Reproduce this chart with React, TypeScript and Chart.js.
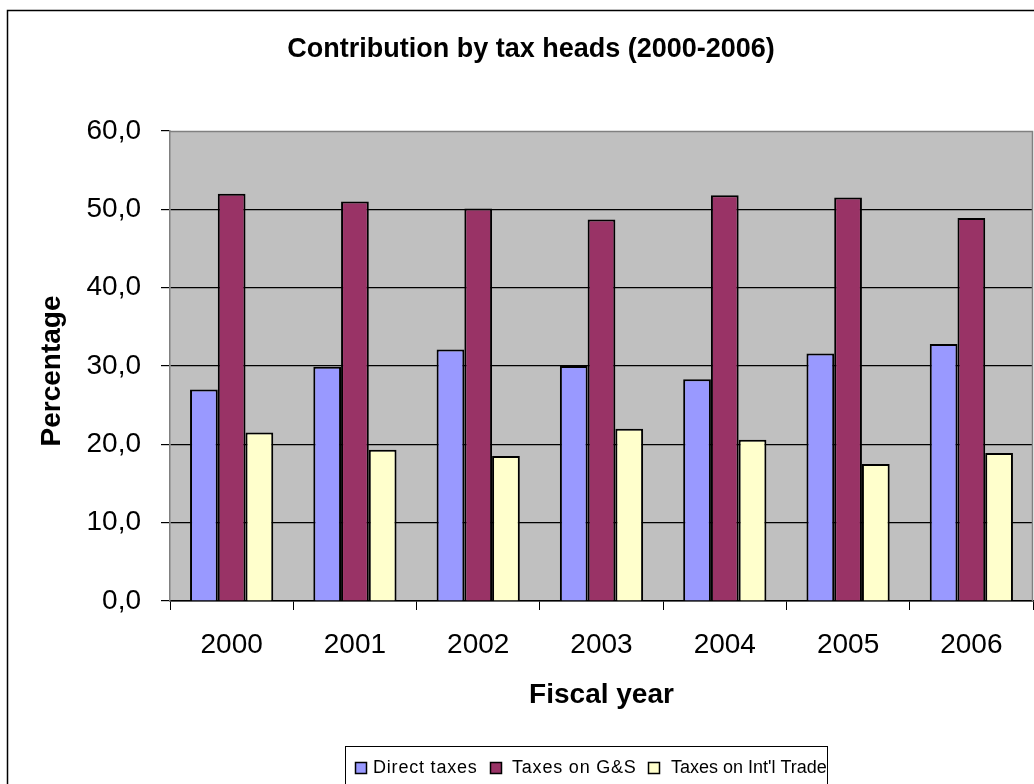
import React, { useEffect, useRef } from "react";
import { Chart, registerables } from "chart.js";

Chart.register(...registerables);

const years = ["2000", "2001", "2002", "2003", "2004", "2005", "2006"];
const directTaxes = [27.0, 29.9, 32.1, 30.0, 28.3, 31.6, 32.8];
const taxesGS = [52.0, 51.0, 50.1, 48.7, 51.8, 51.5, 48.9];
const taxesTrade = [21.5, 19.3, 18.5, 22.0, 20.6, 17.5, 18.9];
const seriesNames = ["Direct taxes", "Taxes on G&S", "Taxes on Int'l Trade"];
const seriesColors = ["#9999FF", "#993366", "#FFFFCC"];
const yTicks = [0, 10, 20, 30, 40, 50, 60];
const chartTitle = "Contribution by tax heads (2000-2006)";
const xTitle = "Fiscal year";
const yTitle = "Percentage";

const FONT = '"Liberation Sans", Arial, Helvetica, sans-serif';

const decor = {
  id: "decor",
  beforeDraw(chart: any) {
    const { ctx, chartArea: a } = chart;
    ctx.save();
    ctx.fillStyle = "#ffffff";
    ctx.fillRect(0, 0, chart.width, chart.height);
    ctx.strokeStyle = "#000000";
    ctx.lineWidth = 1.5;
    ctx.strokeRect(7.5, 10.5, 1200, 1000);
    ctx.fillStyle = "#C0C0C0";
    ctx.fillRect(a.left, a.top, a.right - a.left, a.bottom - a.top);
    ctx.restore();
  },
  afterDraw(chart: any) {
    const { ctx, chartArea: a } = chart;
    ctx.save();
    // plot border (top, right)
    ctx.strokeStyle = "#808080";
    ctx.lineWidth = 1.5;
    ctx.beginPath();
    ctx.moveTo(a.left, a.top + 0.5);
    ctx.lineTo(a.right - 0.5, a.top + 0.5);
    ctx.lineTo(a.right - 0.5, a.bottom);
    ctx.stroke();

    ctx.fillStyle = "#000000";
    ctx.textAlign = "center";
    ctx.textBaseline = "middle";
    ctx.font = `bold 27px ${FONT}`;
    ctx.fillText(chartTitle, 531, 50);

    ctx.font = `bold 28px ${FONT}`;
    ctx.fillText(xTitle, (a.left + a.right) / 2, 695);

    ctx.save();
    ctx.translate(52, 371);
    ctx.rotate(-Math.PI / 2);
    ctx.fillText(yTitle, 0, 0);
    ctx.restore();

    // legend
    ctx.strokeStyle = "#000000";
    ctx.lineWidth = 1;
    ctx.strokeRect(345.5, 746.5, 482, 80);
    const sqX = [355, 490, 648];
    const txX = [373, 512, 671];
    const spacing = ["0.8px", "0.8px", "0px"];
    ctx.font = `18px ${FONT}`;
    ctx.textAlign = "left";
    seriesNames.forEach((name, i) => {
      ctx.fillStyle = seriesColors[i];
      ctx.fillRect(sqX[i] + 0.5, 762.5, 11, 11);
      ctx.strokeStyle = "#000000";
      ctx.lineWidth = 1.5;
      ctx.strokeRect(sqX[i] + 0.5, 762.5, 11, 11);
      ctx.fillStyle = "#000000";
      (ctx as any).letterSpacing = spacing[i];
      ctx.fillText(name, txX[i], 768.5);
    });
    (ctx as any).letterSpacing = "0px";
    ctx.restore();
  },
};

export default function App() {
  const ref = useRef<HTMLCanvasElement | null>(null);

  useEffect(() => {
    if (!ref.current) return;
    const series = [directTaxes, taxesGS, taxesTrade];
    const chart = new Chart(ref.current, {
      type: "bar",
      data: {
        labels: years,
        datasets: series.map((d, i) => ({
          label: seriesNames[i],
          data: d,
          backgroundColor: seriesColors[i],
          borderColor: "#000000",
          borderWidth: 2,
          categoryPercentage: 0.675,
          barPercentage: 1,
        })),
      },
      options: {
        responsive: false,
        animation: false,
        devicePixelRatio: 1,
        layout: { padding: { top: 131, right: 1, left: 0, bottom: 0 } },
        plugins: {
          legend: { display: false },
          title: { display: false },
          tooltip: { enabled: false },
        },
        scales: {
          x: {
            offset: true,
            grid: {
              offset: true,
              drawOnChartArea: false,
              drawTicks: true,
              tickLength: 9,
              color: "#000000",
              lineWidth: 1,
            },
            border: { color: "#000000", width: 1.5 },
            ticks: {
              font: { family: FONT, size: 28 },
              color: "#000000",
              padding: 18,
              maxRotation: 0,
              autoSkip: false,
            },
            afterFit(scale: any) {
              scale.height = 183;
            },
          },
          y: {
            min: 0,
            max: 60,
            afterBuildTicks(scale: any) {
              scale.ticks = yTicks.map((v) => ({ value: v }));
            },
            ticks: {
              font: { family: FONT, size: 28 },
              color: "#000000",
              padding: 20,
              callback: (v: any) => Number(v).toFixed(1).replace(".", ","),
            },
            grid: {
              color: (c: any) =>
                c.tick && c.tick.value === 60 ? "rgba(0,0,0,0)" : "#000000",
              tickColor: "#000000",
              tickLength: 9,
              lineWidth: 1.2,
            },
            border: { color: "#808080", width: 1.5 },
            afterFit(scale: any) {
              scale.width = 170;
            },
          },
        },
      },
      plugins: [decor],
    } as any);
    return () => chart.destroy();
  }, []);

  return (
    <div style={{ position: "absolute", left: 0, top: 0, width: 1034, height: 784 }}>
      <canvas ref={ref} width={1034} height={784} style={{ display: "block" }} />
    </div>
  );
}
